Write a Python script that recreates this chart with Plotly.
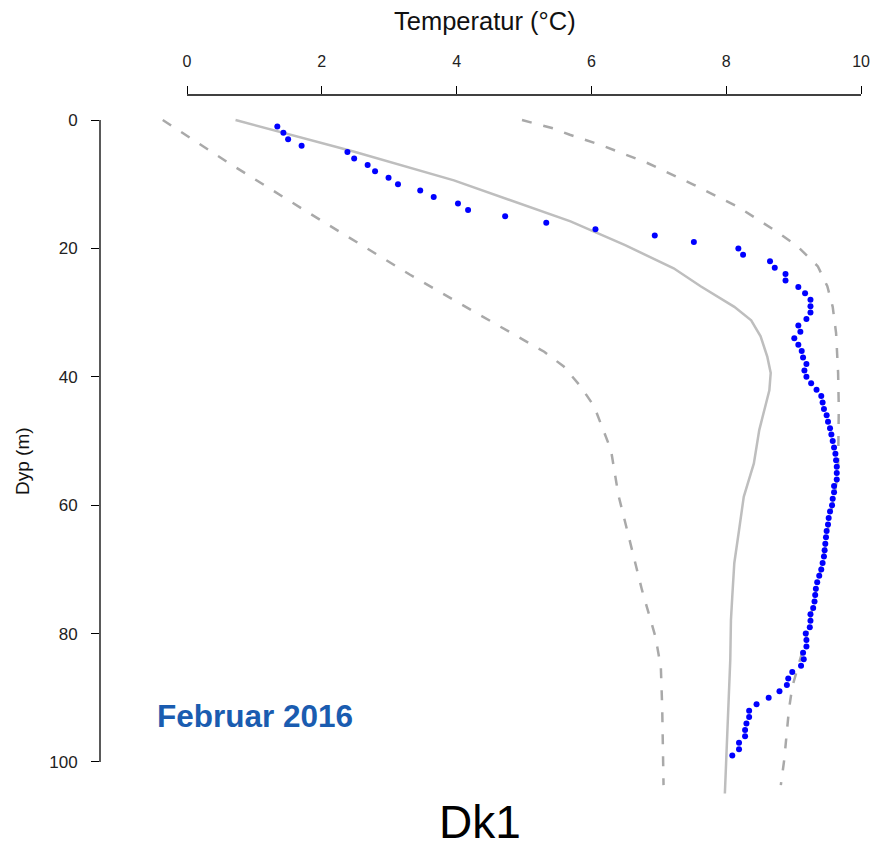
import plotly.graph_objects as go

# Observed profile (blue points): depth (m) and temperature (°C)
obs_depth = list(range(1, 100))
obs_temp = [
    1.34, 1.43, 1.50, 1.70, 2.38, 2.48, 2.68, 2.79, 2.99, 3.13,
    3.46, 3.66, 4.02, 4.17, 4.72, 5.33, 6.06, 6.94, 7.52, 8.18,
    8.25, 8.65, 8.72, 8.88, 8.88, 9.07, 9.17, 9.25, 9.25, 9.25,
    9.19, 9.07, 9.10, 9.01, 9.07, 9.12, 9.14, 9.19, 9.16, 9.19,
    9.26, 9.34, 9.41, 9.43, 9.45, 9.49, 9.51, 9.54, 9.56, 9.58,
    9.60, 9.62, 9.63, 9.64, 9.64, 9.64, 9.60, 9.60, 9.58, 9.57,
    9.54, 9.52, 9.51, 9.49, 9.48, 9.47, 9.46, 9.45, 9.43, 9.41,
    9.38, 9.35, 9.33, 9.32, 9.31, 9.29, 9.25, 9.25, 9.24, 9.18,
    9.19, 9.19, 9.14, 9.15, 9.11, 8.98, 8.92, 8.90, 8.79, 8.63,
    8.45, 8.34, 8.34, 8.30, 8.28, 8.28, 8.19, 8.19, 8.09,
]

# Mean (solid grey line)
mean_depth = [0, 4.9, 9.4, 15.8, 19.5, 23.1, 25.9, 29.1, 31.2, 33.7, 36.9, 39.4,
              42.1, 45.2, 48.3, 53.5, 58.7, 63.9, 69.0, 74.2, 77.9, 84.1, 91.9,
              99.7, 104.9]
mean_temp = [0.72, 2.47, 3.96, 5.69, 6.50, 7.22, 7.62, 8.12, 8.37, 8.51, 8.61, 8.66,
             8.64, 8.56, 8.49, 8.41, 8.26, 8.19, 8.12, 8.09, 8.07, 8.06, 8.03,
             8.00, 7.98]

# Lower bound (left dashed line)
low_depth = [0, 6.5, 14.3, 22.6, 24.1, 30.1, 36.1, 38.4, 41.5, 44.6, 47.8, 51.4,
             58.4, 65.9, 73.2, 80.5, 85.2, 91.4, 103.6]
low_temp = [-0.36, 0.59, 1.78, 3.07, 3.31, 4.30, 5.30, 5.59, 5.84, 6.04, 6.16, 6.29,
            6.40, 6.58, 6.75, 6.95, 7.03, 7.05, 7.07]

# Upper bound (right dashed line)
high_depth = [0, 1.3, 2.3, 3.9, 6.7, 10.1, 13.5, 17.6, 19.7, 22.8, 25.9, 29.1, 33.2,
              39.4, 44.7, 48.8, 55.0, 58.7, 62.3, 66.5, 69.6, 73.2, 77.4, 81.0,
              84.6, 88.3, 91.9, 95.5, 99.7, 103.6]
high_temp = [4.97, 5.43, 5.68, 6.14, 6.83, 7.52, 8.17, 8.78, 9.06, 9.36, 9.50, 9.58, 9.63,
             9.66, 9.67, 9.67, 9.66, 9.60, 9.53, 9.47, 9.41, 9.33, 9.26, 9.18,
             9.08, 8.98, 8.93, 8.90, 8.86, 8.81]

x_ticks = [0, 2, 4, 6, 8, 10]
y_ticks = [0, 20, 40, 60, 80, 100]

FONT = "Liberation Sans, Arial, sans-serif"

fig = go.Figure()
fig.add_trace(go.Scatter(x=low_temp, y=low_depth, mode="lines",
                         line=dict(color="#A9A9A9", width=2.5, dash="10px,12px"),
                         showlegend=False, hoverinfo="skip"))
fig.add_trace(go.Scatter(x=high_temp, y=high_depth, mode="lines",
                         line=dict(color="#A9A9A9", width=2.5, dash="10px,12px"),
                         showlegend=False, hoverinfo="skip"))
fig.add_trace(go.Scatter(x=mean_temp, y=mean_depth, mode="lines",
                         line=dict(color="#BEBEBE", width=2.5),
                         showlegend=False, hoverinfo="skip"))
fig.add_trace(go.Scatter(x=obs_temp, y=obs_depth, mode="markers",
                         marker=dict(color="#0000FF", size=6),
                         showlegend=False))

# plot area in page px: x 100-865, y 95-800
fig.update_layout(
    width=870, height=849,
    margin=dict(l=100, r=5, t=95, b=49, autoexpand=False),
    paper_bgcolor="white", plot_bgcolor="white",
    font=dict(family=FONT, color="black"),
    xaxis=dict(side="top", range=[-1.291, 10.059], tickvals=x_ticks,
               ticks="outside", ticklen=8, tickwidth=1.3, tickcolor="black",
               showgrid=False, zeroline=False, showline=False,
               automargin=False, ticklabeloverflow="allow",
               tickfont=dict(size=16, color="#222222"), ticklabelstandoff=13),
    yaxis=dict(range=[105.92, -3.894], tickvals=y_ticks,
               ticks="outside", ticklen=8, tickwidth=1.3, tickcolor="black",
               showgrid=False, zeroline=False, showline=False,
               automargin=False, ticklabeloverflow="allow",
               tickfont=dict(size=17, color="#222222"), ticklabelstandoff=10),
    shapes=[
        dict(type="line", xref="x", yref="paper", x0=0, x1=10, y0=1, y1=1,
             line=dict(color="black", width=1.3)),
        dict(type="line", xref="paper", yref="y", x0=0, x1=0, y0=0, y1=100,
             line=dict(color="black", width=1.3)),
    ],
    annotations=[
        dict(text="Temperatur (°C)", xref="paper", yref="paper",
             x=(485 - 100) / 765, y=(800 - 21) / 705, xanchor="center", yanchor="middle",
             showarrow=False, font=dict(size=25.5, color="#111111")),
        dict(text="Dyp (m)", xref="paper", yref="paper", textangle=-90,
             x=(22 - 100) / 765, y=(800 - 461) / 705, xanchor="center", yanchor="middle",
             showarrow=False, font=dict(size=19, color="#111111")),
        dict(text="<b>Februar 2016</b>", xref="paper", yref="paper",
             x=(155 - 100) / 765, y=(800 - 716) / 705, xanchor="left", yanchor="middle",
             showarrow=False, font=dict(size=31.5, color="#1A5CB0")),
        dict(text="Dk1", xref="paper", yref="paper",
             x=(480 - 100) / 765, y=(800 - 822) / 705, xanchor="center", yanchor="middle",
             showarrow=False, font=dict(size=46, color="black")),
    ],
)

fig.write_html(
    "out.html",
    config={"displayModeBar": False},
    post_script="document.body.style.margin='0';document.body.style.overflow='hidden';"
                "document.documentElement.style.overflow='hidden';",
)
